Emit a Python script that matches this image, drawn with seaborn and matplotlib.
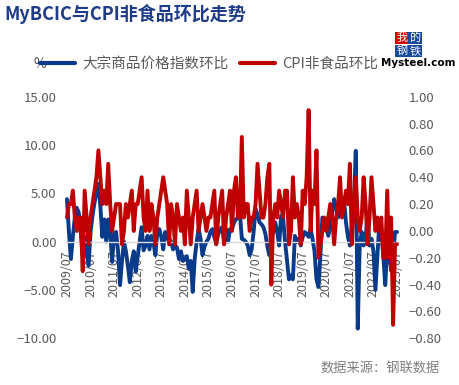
import matplotlib
matplotlib.use("Agg")
import matplotlib.pyplot as plt
import pandas as pd
import seaborn as sns
from matplotlib.lines import Line2D
from matplotlib.ticker import FuncFormatter

# monthly MoM values, 2009/07 - 2023/07
bcic_mom = [
    4.4, 1.0, -1.8, 0.5, 2.5, 3.5, 3.0, 1.0, -1.4, 0.5, -1.0, -2.5,
    1.0, 2.7, 4.0, 5.0, 6.0, 3.7, 0.5, 2.3, 0.0, 2.3, 1.0, -2.1,
    0.8, 1.0, -1.0, -4.5, -2.0, 0.0, -1.0, -2.5, -4.2, -2.0, -1.0, -3.1,
    -1.5, 0.0, 1.5, -0.9, -0.4, 0.6, -0.8, 0.6, 0.0, -1.4, 1.0, 1.3,
    0.5, -0.8, 1.0, 0.3, 0.3, 0.0, -0.8, -0.4, -0.6, -1.8, -1.0, -2.0,
    -1.8, -1.5, -2.8, -2.0, -5.2, -1.8, 0.0, 1.3, 0.3, -1.4, -0.5, 0.0,
    0.3, 1.0, 1.3, 0.5, -0.2, 0.8, 1.3, 1.5, -0.2, 1.3, 0.0, 1.3,
    1.3, 2.0, 2.3, 2.5, 3.0, 0.3, 0.2, 0.0, -0.4, -1.4, -0.8, 1.0,
    3.4, 2.8, 2.0, 1.8, 1.5, 0.8, -0.5, -1.4, 0.5, 1.0, 2.0, 1.0,
    -0.4, 2.7, 2.5, 0.0, -2.0, -3.9, -3.5, -3.9, 0.6, 0.0, 0.3, -0.4,
    0.5, 1.0, 0.8, 0.5, 1.3, 0.3, -1.0, -3.9, -4.7, -1.4, 2.5, 2.2,
    1.5, 0.6, 1.5, 3.0, 4.4, 3.5, 2.5, 3.7, 4.0, 4.4, 2.0, 0.5,
    -0.4, 1.5, 3.5, 9.4, -9.0, -0.5, 1.0, -0.4, 0.5, 2.5, -0.4, 0.3,
    -1.0, -5.0, -1.5, 2.0, 1.0, -1.4, -4.5, -0.6, -1.0, -3.0, -1.5, 1.0, 1.0,
]
cpi_nonfood_mom = [
    0.1, 0.2, 0.2, 0.3, 0.1, 0.0, 0.1, 0.1, -0.3, 0.3, 0.1, -0.1,
    0.1, 0.2, 0.3, 0.4, 0.6, 0.4, 0.2, 0.3, 0.2, 0.5, 0.2, 0.0,
    0.1, 0.2, 0.2, 0.2, -0.1, 0.0, 0.2, 0.1, 0.2, 0.3, 0.0, 0.2,
    0.2, 0.3, 0.4, 0.1, 0.0, 0.3, 0.0, 0.2, 0.1, -0.1, 0.1, 0.2,
    0.3, 0.4, 0.3, 0.2, -0.1, 0.2, 0.1, -0.1, 0.2, 0.1, 0.0, 0.1,
    -0.1, 0.3, 0.1, -0.1, 0.1, 0.2, 0.3, 0.0, 0.1, 0.2, 0.1, 0.0,
    0.1, 0.1, 0.2, 0.3, -0.1, 0.1, 0.2, 0.3, -0.1, 0.1, 0.2, 0.3,
    0.0, 0.3, 0.4, 0.1, 0.1, 0.7, 0.1, 0.2, 0.2, 0.0, 0.1, 0.1,
    0.2, 0.5, 0.3, 0.1, 0.1, 0.2, 0.4, 0.5, -0.4, 0.1, 0.2, 0.1,
    0.3, 0.2, 0.1, 0.3, 0.3, -0.1, 0.0, 0.4, 0.1, 0.2, 0.1, -0.1,
    0.3, 0.2, 0.4, 0.9, 0.0, 0.3, 0.2, 0.6, -0.2, -0.1, 0.0, 0.1,
    0.0, 0.1, 0.2, 0.1, -0.1, 0.1, 0.2, 0.4, 0.1, 0.2, 0.3, 0.2,
    0.5, -0.1, 0.2, 0.4, 0.1, 0.0, 0.1, 0.4, 0.2, -0.1, 0.1, 0.4,
    0.2, 0.0, 0.1, 0.0, 0.1, -0.2, -0.2, 0.3, -0.2, 0.1, -0.7, -0.1, -0.1,
]
tick_labels = ["2009/07", "2010/07", "2011/07", "2012/07", "2013/07",
               "2014/07", "2015/07", "2016/07", "2017/07", "2018/07",
               "2019/07", "2020/07", "2021/07", "2022/07", "2023/07"]
left_ticks = [-10, -5, 0, 5, 10, 15]
right_ticks = [-0.8, -0.6, -0.4, -0.2, 0.0, 0.2, 0.4, 0.6, 0.8, 1.0]

BLUE = "#0a3a8a"
RED = "#c00000"
GREY = "#595959"

df = pd.DataFrame({"month": range(len(bcic_mom)),
                   "bcic": bcic_mom,
                   "cpi": cpi_nonfood_mom})

sns.set_style("white")
plt.rcParams["font.family"] = ["Noto Sans CJK SC", "DejaVu Sans"]

fig = plt.figure(figsize=(4.59, 3.85), dpi=100)
ax = fig.add_axes([65 / 459, 1 - 338.3 / 385, 334 / 459, 241.6 / 385])
ax2 = ax.twinx()

sns.lineplot(data=df, x="month", y="bcic", color=BLUE, lw=2.8, ax=ax)
sns.lineplot(data=df, x="month", y="cpi", color=RED, lw=2.8, ax=ax2)

fmt = FuncFormatter(lambda v, p: f"{v:.2f}".replace("-", "\u2212"))

ax.set_xlim(-1, len(bcic_mom))
ax.set_ylim(-10, 15)
ax.set_yticks(left_ticks)
ax.yaxis.set_major_formatter(fmt)
ax2.set_ylim(-0.8, 1.0)
ax2.set_yticks(right_ticks)
ax2.yaxis.set_major_formatter(fmt)

ax.set_xticks(range(0, len(bcic_mom), 12))
ax.set_xticklabels(tick_labels)

for a in (ax, ax2):
    a.set_xlabel("")
    a.set_ylabel("")
    for s in a.spines.values():
        s.set_visible(False)
    a.tick_params(length=0, labelsize=9.5, colors=GREY)

# x axis sits on the zero line
ax.spines["bottom"].set_visible(True)
ax.spines["bottom"].set_position(("data", 0))
ax.spines["bottom"].set_color("#d9d9d9")
ax.spines["bottom"].set_linewidth(1)
ax.tick_params(axis="x", pad=6.5, labelsize=9, labelrotation=90)
ax.tick_params(axis="y", pad=6)
ax2.tick_params(axis="y", pad=7)

# title
fig.text(4 / 459, 1 - 14 / 385, "MyBCIC与CPI非食品环比走势", fontsize=13,
         fontweight="bold", color="#1f3c88", va="center", ha="left")

# legend
fig.text(33 / 459, 1 - 64 / 385, "%", fontsize=10, color=GREY,
         va="center", ha="left")
handles = [Line2D([], [], color=BLUE, lw=3),
           Line2D([], [], color=RED, lw=3)]
fig.legend(handles, ["大宗商品价格指数环比", "CPI非食品环比"], ncol=2,
           loc="center left", bbox_to_anchor=(40 / 459, 1 - 64 / 385),
           frameon=False, fontsize=10.5, handlelength=2.4,
           handletextpad=0.5, columnspacing=0.8, labelcolor=GREY,
           borderaxespad=0, borderpad=0)

# logo
for ch, cx, cy, bg in [("我", 402, 38, "#d40000"), ("的", 415, 38, "#1a4a9c"),
                       ("钢", 402, 51, "#1a4a9c"), ("铁", 415, 51, "#1a4a9c")]:
    fig.text(cx / 459, 1 - cy / 385, ch, fontsize=8, color="white",
             ha="center", va="center",
             bbox=dict(boxstyle="square,pad=0.1", fc=bg, ec="none"))
fig.text(418 / 459, 1 - 63 / 385, "Mysteel.com", fontsize=7.5,
         fontweight="bold", color="black", ha="center", va="center",
         family="DejaVu Sans")

# source
fig.text(440 / 459, 1 - 369 / 385, "数据来源：钢联数据", fontsize=9.5,
         color="#7f7f7f", ha="right", va="center")

fig.savefig("out.png", dpi=100)
